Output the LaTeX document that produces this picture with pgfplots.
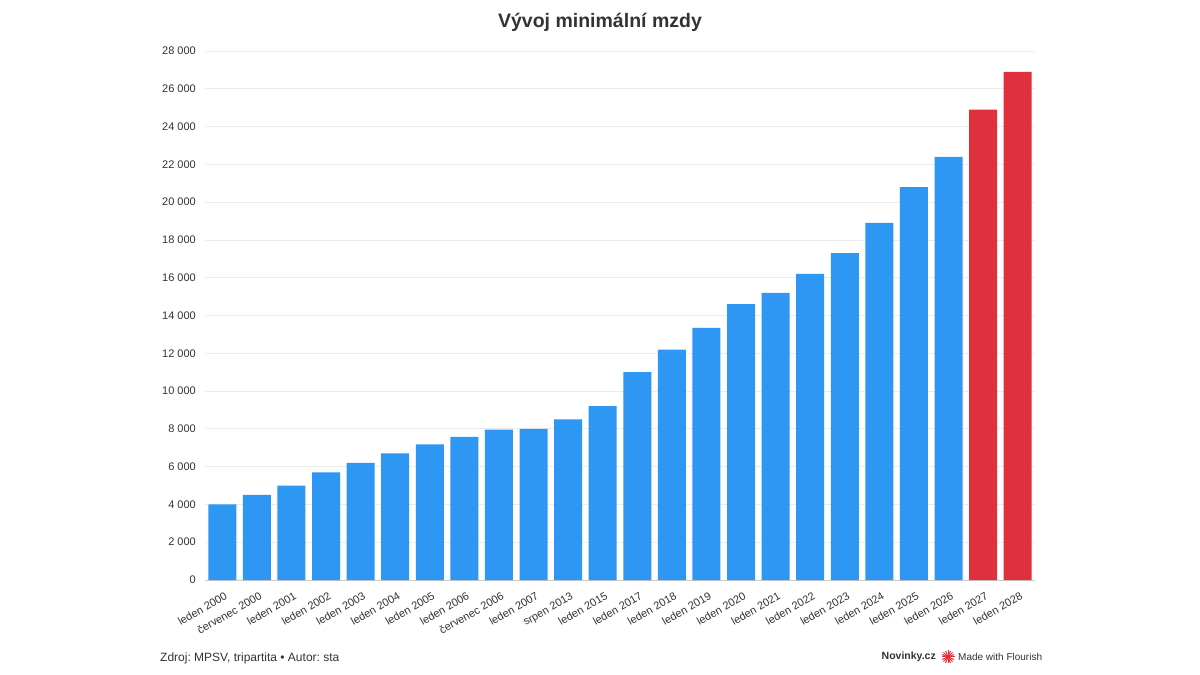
\documentclass[border=0pt]{standalone}
\usepackage{fontspec}
\setmainfont{Liberation Sans}
\usepackage{pgfplots}
\pgfplotsset{compat=1.18}
\definecolor{barblue}{HTML}{2E97F4}
\definecolor{barred}{HTML}{E0303D}
\definecolor{txt}{HTML}{333333}
\definecolor{gridc}{HTML}{EBEBEB}
\frenchspacing
\begin{document}
\begin{tikzpicture}
\path[fill=white] (0pt,0pt) rectangle (1200pt,675pt);
\begin{axis}[
  at={(205pt,95pt)}, anchor=south west,
  scale only axis, width=830pt, height=529pt,
  xmin=-0.5, xmax=23.5, ymin=0, ymax=28000,
  ybar, bar width=0.81, bar shift=0pt,
  axis x line*=bottom, axis y line*=left,
  x axis line style={draw=gridc!70!gray, line width=0.8pt, -},
  y axis line style={draw=none},
  xtick={0,...,23}, xtick style={draw=none}, ytick style={draw=none},
  xticklabels={leden 2000,červenec 2000,leden 2001,leden 2002,leden 2003,leden 2004,leden 2005,leden 2006,červenec 2006,leden 2007,srpen 2013,leden 2015,leden 2017,leden 2018,leden 2019,leden 2020,leden 2021,leden 2022,leden 2023,leden 2024,leden 2025,leden 2026,leden 2027,leden 2028},
  xticklabel style={rotate=30, anchor=north east, font=\fontsize{11}{13}\selectfont, text=txt, inner sep=0pt, xshift=-2pt, yshift=-7pt},
  ytick={0,2000,...,28000}, yticklabels={}, scaled y ticks=false,
  ymajorgrids, major grid style={draw=gridc, line width=0.8pt},
  clip=false,
]
\addplot[fill=barblue, draw=none] coordinates {
(0,4000) (1,4500) (2,5000) (3,5700) (4,6200) (5,6700) (6,7185) (7,7570) (8,7955) (9,8000) (10,8500) (11,9200) (12,11000) (13,12200) (14,13350) (15,14600) (16,15200) (17,16200) (18,17300) (19,18900) (20,20800) (21,22400)};
\addplot[fill=barred, draw=none] coordinates {(22,24900) (23,26900)};
\end{axis}
\foreach \v [count=\i from 0] in {0,2 000,4 000,6 000,8 000,10 000,12 000,14 000,16 000,18 000,20 000,22 000,24 000,26 000,28 000}{
  \node[anchor=east, text=txt, font=\fontsize{11}{13}\selectfont, inner sep=0pt] at (196pt,{(95+\i*529/14)*1pt}) {\v};
}
\node[font=\fontsize{19.5}{22}\selectfont\bfseries, text=txt] at (600pt,653pt) {Vývoj minimální mzdy};
\node[anchor=west, font=\fontsize{12}{14}\selectfont, text=txt, inner sep=0pt] at (160pt,17pt) {Zdroj: MPSV, tripartita • Autor: sta};
\node[anchor=west, font=\fontsize{10}{12}\selectfont, text=txt, inner sep=0pt] at (958pt,18pt) {Made with Flourish};
\node[anchor=east, font=\fontsize{10.5}{12}\selectfont\bfseries, text=txt, inner sep=0pt] at (936pt,18pt) {Novinky.cz};
\foreach \a in {0,22.5,...,157.5}{
  \draw[barred, line width=1pt] ({(948+6.5*cos(\a))*1pt},{(18+6.5*sin(\a))*1pt}) -- ({(948-6.5*cos(\a))*1pt},{(18-6.5*sin(\a))*1pt});
}
\fill[barred] (948pt,18pt) circle (2.5pt);
\end{tikzpicture}
\end{document}
